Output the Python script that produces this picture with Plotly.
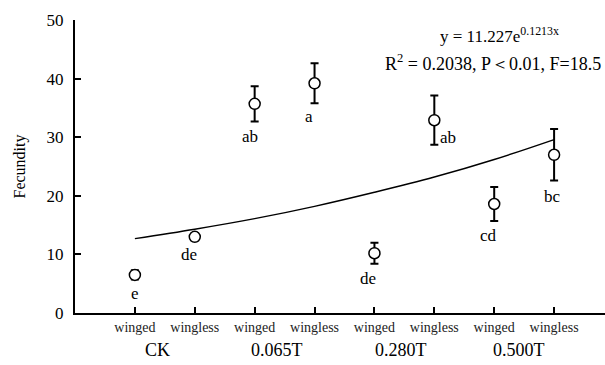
import plotly.graph_objects as go

x_pos = [1, 2, 3, 4, 5, 6, 7, 8]
tick_labels = ["winged", "wingless", "winged", "wingless", "winged", "wingless", "winged", "wingless"]
groups = ["CK", "0.065T", "0.280T", "0.500T"]
group_pos = [1.38, 3.37, 5.45, 7.42]
fecundity = [6.5, 13.0, 35.7, 39.2, 10.2, 32.9, 18.6, 27.0]
err = [0.8, 0.6, 3.0, 3.4, 1.8, 4.2, 2.9, 4.4]
letters = ["e", "de", "ab", "a", "de", "ab", "cd", "bc"]
# letter label offsets (x, y in data units relative to point)
letter_dx = [0.0, -0.1, -0.07, -0.1, -0.1, 0.23, -0.1, -0.03]
letter_dy = [-3.2, -3.1, -5.6, -5.6, -4.3, -3.0, -5.3, -7.2]
# fitted trend y = 11.227e^(0.1213x) read at each position
trend = [12.7, 14.3, 16.1, 18.2, 20.6, 23.2, 26.2, 29.6]

FONT = "Liberation Serif"
W, H = 605, 365
L, R, T, B = 75, 0, 20, 52


def px_x(p):
    return (p - L) / (W - L - R)


def px_y(p):
    return 1 - (p - T) / (H - T - B)


fig = go.Figure()
fig.add_trace(go.Scatter(x=x_pos, y=trend, mode="lines", line=dict(color="black", width=1.4, shape="spline"),
                         hoverinfo="skip", showlegend=False))
fig.add_trace(go.Scatter(
    x=x_pos, y=fecundity, mode="markers",
    marker=dict(symbol="circle", size=11, color="white", line=dict(color="black", width=1.5)),
    error_y=dict(type="data", array=err, color="black", thickness=2, width=4),
    showlegend=False))

for xi, yi, lt, dx, dy in zip(x_pos, fecundity, letters, letter_dx, letter_dy):
    fig.add_annotation(x=xi + dx, y=yi + dy, text=lt, showarrow=False, xref="x", yref="y",
                       font=dict(family=FONT, size=17, color="black"))

for gp, g in zip(group_pos, groups):
    fig.add_annotation(x=gp, y=px_y(350), xref="x", yref="paper", text=g, showarrow=False,
                       xanchor="center", yanchor="middle",
                       font=dict(family=FONT, size=18, color="black"))

fig.add_annotation(x=px_x(499), y=px_y(35), xref="paper", yref="paper", xanchor="center", yanchor="middle",
                   text="y = 11.227e<sup>0.1213x</sup>", showarrow=False,
                   font=dict(family=FONT, size=17, color="black"))
fig.add_annotation(x=px_x(383), y=px_y(62), xref="paper", yref="paper", xanchor="left", yanchor="middle",
                   text="R<sup>2</sup> = 0.2038, P＜0.01, F=18.5", showarrow=False,
                   font=dict(family=FONT, size=18, color="black"))

fig.update_layout(
    width=W, height=H,
    margin=dict(l=L, r=R, t=T, b=B),
    plot_bgcolor="white", paper_bgcolor="white",
    font=dict(family=FONT, color="black"),
    xaxis=dict(range=[0, 8.85], tickvals=x_pos, ticktext=tick_labels, ticks="inside", ticklen=6,
               tickwidth=2, tickcolor="black", showline=True, linecolor="black", linewidth=2,
               showgrid=False, zeroline=False, tickfont=dict(family=FONT, size=14, color="#222")),
    yaxis=dict(range=[0, 50], tickvals=[0, 10, 20, 30, 40, 50], ticks="inside", ticklen=6,
               tickwidth=2, tickcolor="black", showline=True, linecolor="black", linewidth=2,
               showgrid=False, zeroline=False, tickfont=dict(family=FONT, size=17, color="black"),
               ticklabelstandoff=6,
               title=dict(text="Fecundity", font=dict(family=FONT, size=16, color="black"), standoff=17)),
)

fig.write_html("out.html")
